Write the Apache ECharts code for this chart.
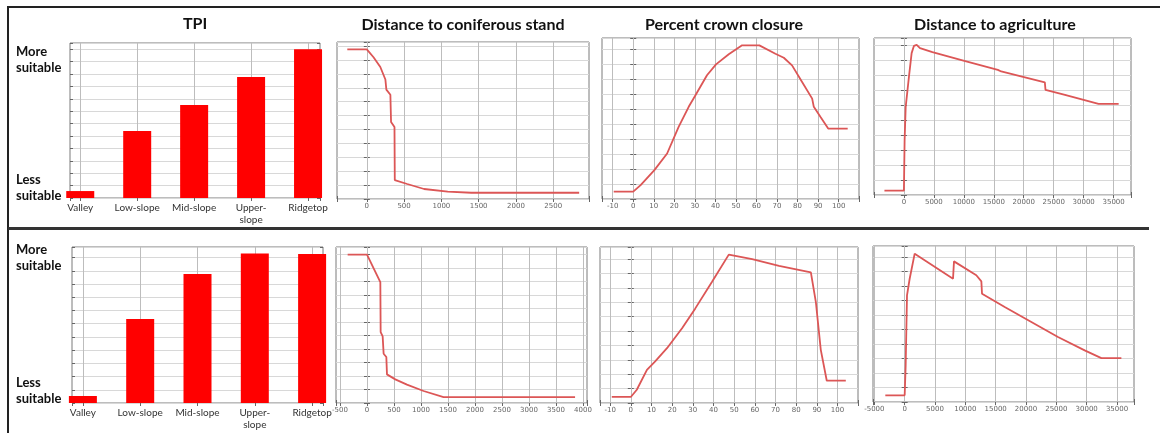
<!DOCTYPE html>
<html>
<head>
<meta charset="utf-8">
<script src="https://cdn.jsdelivr.net/npm/echarts@6/dist/echarts.min.js"></script>
<style>
html, body { margin: 0; padding: 0; background: #fff; }
#main { width: 1160px; height: 433px; }
</style>
</head>
<body>
<div id="main"></div>
<script>
// TPI bars (suitability, in grid-line units)
var tpiCategories = ['Valley', 'Low-slope', 'Mid-slope', 'Upper-\nslope', 'Ridgetop'];
var tpiTop = [0.56, 5.4, 7.5, 9.75, 12.0];
var tpiBottom = [0.53, 6.35, 9.75, 11.3, 11.27];

// Distance to coniferous stand
var conifTopX = [-262, 0, 90, 181, 249, 262, 316, 325, 371, 375, 542, 768, 1085, 1401, 2848];
var conifTopY = [10.77, 10.77, 10.2, 9.5, 8.6, 7.87, 7.5, 5.55, 5.19, 1.36, 1.08, 0.72, 0.53, 0.45, 0.45];
var conifBottomX = [-358, 0, 247, 253, 290, 308, 358, 370, 524, 740, 1048, 1418, 3853];
var conifBottomY = [11.0, 11.0, 8.96, 5.26, 4.94, 3.65, 3.41, 2.12, 1.75, 1.36, 0.89, 0.44, 0.44];

// Percent crown closure
var crownTopX = [-9.5, 0, 3.6, 10.3, 16.5, 22.1, 27, 30.3, 35.9, 40.3, 46.5, 53, 61.4, 69.2, 73.3, 77.3, 82.2, 87.1, 87.9, 91.1, 94.9, 104.4];
var crownTopY = [0.49, 0.49, 0.93, 1.93, 3.04, 4.82, 6.16, 6.93, 8.27, 9.0, 9.67, 10.27, 10.27, 9.71, 9.44, 8.93, 7.82, 6.71, 6.16, 5.49, 4.71, 4.71];
var crownBottomX = [-9.2, 0, 2.9, 7.8, 11.8, 17.5, 24.8, 31.2, 39.3, 47.4, 58.7, 71.7, 87.1, 89.5, 91.9, 94.8, 104];
var crownBottomY = [0.42, 0.42, 0.92, 2.31, 2.89, 3.81, 5.2, 6.58, 8.43, 10.32, 10.0, 9.54, 9.08, 7.04, 3.7, 1.55, 1.55];

// Distance to agriculture
var agriTopX = [-3250, 0, 120, 300, 840, 1290, 1680, 2130, 2690, 4760, 10080, 15680, 16240, 23520, 23630, 26880, 32480, 35840];
var agriTopY = [0.29, 0.29, 3.7, 5.9, 7.9, 9.49, 9.98, 10.04, 9.82, 9.55, 8.97, 8.37, 8.26, 7.54, 7.03, 6.7, 6.09, 6.09];
var agriBottomX = [-3190, 0, 165, 385, 824, 1650, 7970, 8130, 11810, 12640, 12750, 16490, 20880, 25270, 29670, 32420, 35720];
var agriBottomY = [0.46, 0.46, 2.53, 7.36, 8.5, 10.23, 8.5, 9.7, 8.74, 8.32, 7.47, 6.55, 5.52, 4.48, 3.56, 3.03, 3.03];

// x tick values (vertical grid lines)
var tpiTicks = [1, 2, 3, 4, 5];
var conifTopTicks = [0, 500, 1000, 1500, 2000, 2500];
var conifBottomTicks = [-500, 0, 500, 1000, 1500, 2000, 2500, 3000, 3500, 4000];
var crownTicks = [-10, 0, 10, 20, 30, 40, 50, 60, 70, 80, 90, 100];
var agriTopTicks = [0, 5000, 10000, 15000, 20000, 25000, 30000, 35000];
var agriBottomTicks = [-5000, 0, 5000, 10000, 15000, 20000, 25000, 30000, 35000];

var titles = ['TPI', 'Distance to coniferous stand', 'Percent crown closure', 'Distance to agriculture'];

function zip(xs, ys) {
    return xs.map(function (x, i) { return [x, ys[i]]; });
}

// panels: grid box, x range + step, y max, x ticks
var panels = [
    { box: [70, 43, 250, 155], x: [0.82, 5.21, 1], yMax: 12.5, ticks: tpiTicks },
    { box: [337, 42, 252, 157], x: [-400, 2980, 500], yMax: 11.3, ticks: conifTopTicks },
    { box: [602, 38, 257, 161], x: [-15.2, 109.9, 10], yMax: 10.76, ticks: crownTicks },
    { box: [874, 38, 257, 157], x: [-4990, 37900, 5000], yMax: 10.5, ticks: agriTopTicks },
    { box: [72, 247, 251, 156], x: [0.81, 5.19, 1], yMax: 11.8, ticks: tpiTicks },
    { box: [336, 247, 251, 156], x: [-574, 4074, 500], yMax: 11.56, ticks: conifBottomTicks },
    { box: [600, 247, 258, 156], x: [-14.9, 109.9, 10], yMax: 10.85, ticks: crownTicks },
    { box: [873, 246, 261, 156], x: [-5220, 37800, 5000], yMax: 10.76, ticks: agriBottomTicks }
];

var gridColor = '#d8d8d8';
var grids = [], xAxes = [], yAxes = [], series = [];
panels.forEach(function (p, i) {
    var isTpi = (i % 4 === 0);
    grids.push({
        left: p.box[0], top: p.box[1], width: p.box[2], height: p.box[3],
        show: true, borderColor: '#7a7a7a', borderWidth: 1
    });
    var step = p.x[2];
    var xBase = {
        type: 'value', gridIndex: i, min: p.x[0], max: p.x[1],
        minInterval: step, maxInterval: step,
        axisLine: { show: false },
        splitLine: { show: false },
        axisTick: { show: true, inside: true, length: 3, lineStyle: { color: '#666' } }
    };
    xAxes.push(Object.assign({}, xBase, {
        position: 'bottom',
        axisLabel: isTpi ? {
            show: true, margin: 4, fontSize: 10, lineHeight: 12, color: '#333',
            fontFamily: 'Lato',
            formatter: function (v) {
                return Math.abs(v - Math.round(v)) < 1e-6 ? tpiCategories[Math.round(v) - 1] || '' : '';
            }
        } : {
            show: true, margin: 4, fontSize: 7, color: '#666', fontFamily: 'DejaVu Sans',
            formatter: function (v) {
                return Math.abs(v / step - Math.round(v / step)) < 1e-6 ? String(Math.round(v)) : '';
            }
        }
    }));
    xAxes.push(Object.assign({}, xBase, { position: 'top', axisLabel: { show: false } }));
    var yBase = {
        type: 'value', gridIndex: i, min: 0, max: p.yMax,
        minInterval: 1, maxInterval: 1,
        axisLine: { show: false },
        axisLabel: { show: false },
        axisTick: { show: true, inside: true, length: 3, lineStyle: { color: '#666' } }
    };
    yAxes.push(Object.assign({}, yBase, {
        position: 'left',
        splitLine: { show: true, lineStyle: { color: gridColor, width: 1 } }
    }));
    yAxes.push(Object.assign({}, yBase, { position: 'right', splitLine: { show: false } }));

    // helper series on the top/right axes carrying the vertical grid lines
    series.push({
        type: 'line', xAxisIndex: 2 * i + 1, yAxisIndex: 2 * i + 1, z: 0,
        data: [[p.x[0], 0], [p.x[1], 0]], showSymbol: false, silent: true,
        lineStyle: { opacity: 0 },
        markLine: {
            silent: true, symbol: 'none', animation: false, z: 1,
            label: { show: false },
            lineStyle: { color: '#bdbdbd', width: 1, type: 'solid' },
            data: p.ticks.map(function (t) { return { xAxis: t }; })
        }
    });
});

function barSeries(i, values) {
    return {
        type: 'bar', xAxisIndex: 2 * i, yAxisIndex: 2 * i, z: 3,
        data: values.map(function (v, k) { return [k + 1, v]; }),
        barWidth: 28, itemStyle: { color: '#ff0000' }, clip: true, silent: true
    };
}
function lineSeries(i, xs, ys) {
    return {
        type: 'line', xAxisIndex: 2 * i, yAxisIndex: 2 * i, z: 3,
        data: zip(xs, ys), showSymbol: false, silent: true,
        lineStyle: { color: '#dc5656', width: 1.8 }
    };
}

series.push(
    barSeries(0, tpiTop),
    lineSeries(1, conifTopX, conifTopY),
    lineSeries(2, crownTopX, crownTopY),
    lineSeries(3, agriTopX, agriTopY),
    barSeries(4, tpiBottom),
    lineSeries(5, conifBottomX, conifBottomY),
    lineSeries(6, crownBottomX, crownBottomY),
    lineSeries(7, agriBottomX, agriBottomY)
);

var titleCenters = [[195, 24], [463, 25], [724, 25], [995, 25]];
var graphics = titles.map(function (t, k) {
    return {
        type: 'text', x: titleCenters[k][0], y: titleCenters[k][1],
        style: { text: t, font: 'bold 16px Lato', fill: '#111', textAlign: 'center', textVerticalAlign: 'middle' }
    };
});

function sideLabel(text, x, y) {
    return {
        type: 'text', x: x, y: y,
        style: { text: text, font: 'bold 13px Lato', fill: '#111', lineHeight: 16, textAlign: 'left', textVerticalAlign: 'top' }
    };
}
graphics.push(sideLabel('More\nsuitable', 16, 44));
graphics.push(sideLabel('Less\nsuitable', 16, 172));
graphics.push(sideLabel('More\nsuitable', 16, 242));
graphics.push(sideLabel('Less\nsuitable', 16, 375));

// outer frame and row separator
graphics.push({ type: 'line', shape: { x1: 7, y1: 7, x2: 1160, y2: 7 }, style: { stroke: '#222', lineWidth: 2 } });
graphics.push({ type: 'line', shape: { x1: 8, y1: 6, x2: 8, y2: 433 }, style: { stroke: '#222', lineWidth: 2 } });
graphics.push({ type: 'line', shape: { x1: 8, y1: 228.5, x2: 1149, y2: 228.5 }, style: { stroke: '#333', lineWidth: 3 } });

var chart = echarts.init(document.getElementById('main'), null, { renderer: 'canvas' });
chart.setOption({
    animation: false,
    backgroundColor: '#fff',
    grid: grids,
    xAxis: xAxes,
    yAxis: yAxes,
    series: series,
    graphic: graphics
});
</script>
</body>
</html>
